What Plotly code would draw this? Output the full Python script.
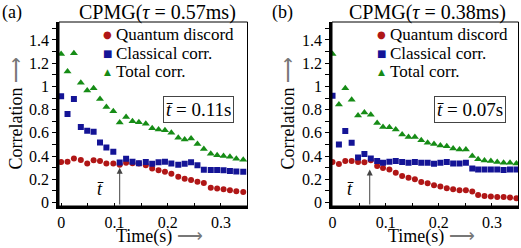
import plotly.graph_objects as go

# ---------------- data ----------------
time_a = [0.000, 0.012, 0.024, 0.037, 0.049, 0.061, 0.073, 0.085, 0.098, 0.110,
          0.122, 0.134, 0.146, 0.159, 0.171, 0.183, 0.195, 0.207, 0.220, 0.232,
          0.244, 0.256, 0.268, 0.281, 0.293, 0.305, 0.317, 0.329, 0.342]
discord_a = [0.348, 0.352, 0.380, 0.366, 0.336, 0.365, 0.357, 0.336, 0.336, 0.325,
             0.343, 0.338, 0.336, 0.322, 0.293, 0.277, 0.264, 0.248, 0.221, 0.204,
             0.193, 0.178, 0.168, 0.128, 0.120, 0.115, 0.106, 0.097, 0.090]
classical_a = [0.915, 0.762, 0.892, 0.651, 0.619, 0.609, 0.517, 0.475, 0.437, 0.344,
               0.378, 0.352, 0.338, 0.350, 0.333, 0.347, 0.351, 0.337, 0.325, 0.333,
               0.347, 0.320, 0.282, 0.280, 0.280, 0.277, 0.272, 0.267, 0.266]
total_a = [1.280, 1.128, 1.285, 1.031, 0.965, 0.985, 0.891, 0.823, 0.786, 0.690,
           0.737, 0.700, 0.692, 0.678, 0.640, 0.630, 0.622, 0.600, 0.557, 0.543,
           0.551, 0.504, 0.462, 0.420, 0.408, 0.400, 0.394, 0.378, 0.368]

time_b = [0.000, 0.012, 0.024, 0.036, 0.048, 0.060, 0.072, 0.084, 0.095, 0.107,
          0.119, 0.131, 0.143, 0.155, 0.167, 0.179, 0.191, 0.203, 0.215, 0.227,
          0.239, 0.251, 0.263, 0.274, 0.286, 0.298, 0.310, 0.322, 0.334, 0.346]
discord_b = [0.348, 0.332, 0.357, 0.357, 0.350, 0.346, 0.365, 0.314, 0.298, 0.285,
             0.257, 0.228, 0.214, 0.200, 0.177, 0.165, 0.148, 0.137, 0.123, 0.114,
             0.105, 0.105, 0.094, 0.065, 0.057, 0.051, 0.048, 0.048, 0.043, 0.037]
classical_b = [0.920, 0.500, 0.615, 0.515, 0.387, 0.418, 0.380, 0.357, 0.343, 0.351,
               0.357, 0.348, 0.343, 0.348, 0.343, 0.343, 0.334, 0.343, 0.348, 0.337,
               0.337, 0.343, 0.294, 0.285, 0.285, 0.285, 0.285, 0.280, 0.285, 0.285]
total_b = [1.280, 0.845, 0.985, 0.885, 0.750, 0.775, 0.757, 0.686, 0.651, 0.648,
           0.630, 0.585, 0.565, 0.565, 0.537, 0.514, 0.505, 0.492, 0.484, 0.465,
           0.457, 0.457, 0.400, 0.373, 0.362, 0.357, 0.348, 0.343, 0.343, 0.337]

series_names = ["Quantum discord", "Classical corr.", "Total corr."]
panel_labels = ["(a)", "(b)"]
panel_titles = ["CPMG(<i>τ</i> = 0.57ms)", "CPMG(<i>τ</i> = 0.38ms)"]
tbar_values = [0.11, 0.07]
tbar_texts = ["<i>t̄</i> = 0.11s", "<i>t̄</i> = 0.07s"]
x_title = "Time(s)"
y_title = "Correlation"

x_tickvals = [0, 0.1, 0.2, 0.3]
x_ticktext = ["0", "0.1", "0.2", "0.3"]
y_tickvals = [0, 0.2, 0.4, 0.6, 0.8, 1.0, 1.2, 1.4]
y_ticktext = ["0", "0.2", "0.4", "0.6", "0.8", "1", "1.2", "1.4"]

# ---------------- style ----------------
W, H = 521, 248
FONT = "Liberation Serif"
RED, BLUE, GREEN = "#b01616", "#141496", "#168c16"
colors = [RED, BLUE, GREEN]
symbols = ["circle", "square", "triangle-up"]
sizes = [6, 6, 7]
legend_glyphs = ["●", "■", "▲"]
legend_glyph_sizes = [10, 10, 9]
ARROW = "<span style='color:#777'>⟶</span>"

def px_x(p):
    return p / W

def px_y(p):
    return 1 - p / H

fig = go.Figure()

panels = [
    dict(t=time_a, ys=[discord_a, classical_a, total_a], xa="x", ya="y"),
    dict(t=time_b, ys=[discord_b, classical_b, total_b], xa="x2", ya="y2"),
]
for p in panels:
    for name, ys, c, s, sz in zip(series_names, p["ys"], colors, symbols, sizes):
        fig.add_trace(go.Scatter(
            x=p["t"], y=ys, mode="markers", name=name, showlegend=False,
            marker=dict(color=c, symbol=s, size=sz, line=dict(width=0)),
            xaxis=p["xa"], yaxis=p["ya"]))

ydom = [px_y(206), px_y(22)]
xdoms = [[px_x(59), px_x(247.5)], [px_x(332), px_x(518.5)]]
xranges = [[-0.004, 0.35], [-0.001, 0.35]]
yrange = [-0.03, 1.555]

axis_common = dict(showgrid=False, zeroline=False, showline=True, linewidth=2.5,
                   linecolor="black", tickcolor="black", tickfont=dict(size=16),
                   automargin=False)
for i, (xd, xr) in enumerate(zip(xdoms, xranges)):
    sfx = "" if i == 0 else "2"
    fig.update_layout(**{
        "xaxis" + sfx: dict(axis_common, domain=xd, range=xr, anchor="y" + sfx,
                           tickvals=x_tickvals, ticktext=x_ticktext,
                           ticks="inside", ticklen=3, tickwidth=1,
                           minor=dict(dtick=0.05, tick0=0, ticks="inside", ticklen=3,
                                      tickcolor="black")),
        "yaxis" + sfx: dict(axis_common, domain=ydom, range=yrange, anchor="x" + sfx,
                           tickvals=y_tickvals, ticktext=y_ticktext,
                           ticks="outside", ticklen=4, tickwidth=1,
                           minor=dict(dtick=0.1, tick0=0, ticks="outside", ticklen=4,
                                      tickcolor="black")),
    })
    # thin frame (top/right)
    fig.add_shape(type="rect", xref=("x" + sfx) + " domain", yref=("y" + sfx) + " domain",
                  x0=0, x1=1, y0=0, y1=1, line=dict(color="black", width=1))

annotations = []
title_centers = [157, 427.5]
label_x = [0, 270]
legend_sym_x = [107.5, 381.5]
legend_txt_x = [114, 388]
legend_rows = [34.5, 53.3, 72]
xtitle_centers = [159, 431]
ytitle_centers = [15, 287]
for i in range(2):
    sfx = "" if i == 0 else "2"
    annotations.append(dict(text=panel_labels[i], x=px_x(label_x[i]), y=px_y(13),
                            xref="paper", yref="paper", xanchor="left", yanchor="middle",
                            showarrow=False, font=dict(size=18)))
    annotations.append(dict(text=panel_titles[i], x=px_x(title_centers[i]), y=px_y(13),
                            xref="paper", yref="paper", xanchor="center", yanchor="middle",
                            showarrow=False, font=dict(size=20)))
    # axis titles
    annotations.append(dict(text=x_title + " " + ARROW, x=px_x(xtitle_centers[i]), y=px_y(236),
                            xref="paper", yref="paper", xanchor="center", yanchor="middle",
                            borderpad=0, showarrow=False, font=dict(size=18)))
    annotations.append(dict(text=y_title + " " + ARROW, x=px_x(ytitle_centers[i]), y=px_y(113.5),
                            xref="paper", yref="paper", xanchor="center", yanchor="middle",
                            textangle=-90, borderpad=0, showarrow=False, font=dict(size=18)))
    # legend (key glyph + label)
    for name, c, g, gs, ry in zip(series_names, colors, legend_glyphs, legend_glyph_sizes, legend_rows):
        annotations.append(dict(text=g, x=px_x(legend_sym_x[i]), y=px_y(ry),
                                xref="paper", yref="paper", xanchor="center", yanchor="middle",
                                showarrow=False, font=dict(size=gs, color=c, family="DejaVu Sans")))
        annotations.append(dict(text=name, x=px_x(legend_txt_x[i]), y=px_y(ry),
                                xref="paper", yref="paper", xanchor="left", yanchor="middle",
                                showarrow=False, font=dict(size=17)))
    # boxed t-bar
    annotations.append(dict(text=tbar_texts[i], x=0.258, y=0.80, xref="x" + sfx, yref="y" + sfx,
                            showarrow=False, font=dict(size=19), bgcolor="white",
                            bordercolor="#444", borderwidth=1, borderpad=2))
    # arrow
    tb = tbar_values[i]
    head_y = [0.30, 0.285][i]
    annotations.append(dict(text="", x=tb, y=head_y, ax=tb, ay=-0.03,
                            xref="x" + sfx, yref="y" + sfx, axref="x" + sfx, ayref="y" + sfx,
                            showarrow=True, arrowhead=2, arrowsize=1.2, arrowwidth=1,
                            arrowcolor="#444"))
    annotations.append(dict(text="<i>t̄</i>", x=tb - 0.037, y=0.114, xref="x" + sfx, yref="y" + sfx,
                            showarrow=False, font=dict(size=18)))

fig.update_layout(width=W, height=H, margin=dict(l=0, r=0, t=0, b=0),
                  plot_bgcolor="white", paper_bgcolor="white", showlegend=False,
                  font=dict(family=FONT, size=16, color="black"),
                  annotations=annotations)

fig.write_html("out.html", config={"displayModeBar": False},
               post_script="document.body.style.margin='0';")
